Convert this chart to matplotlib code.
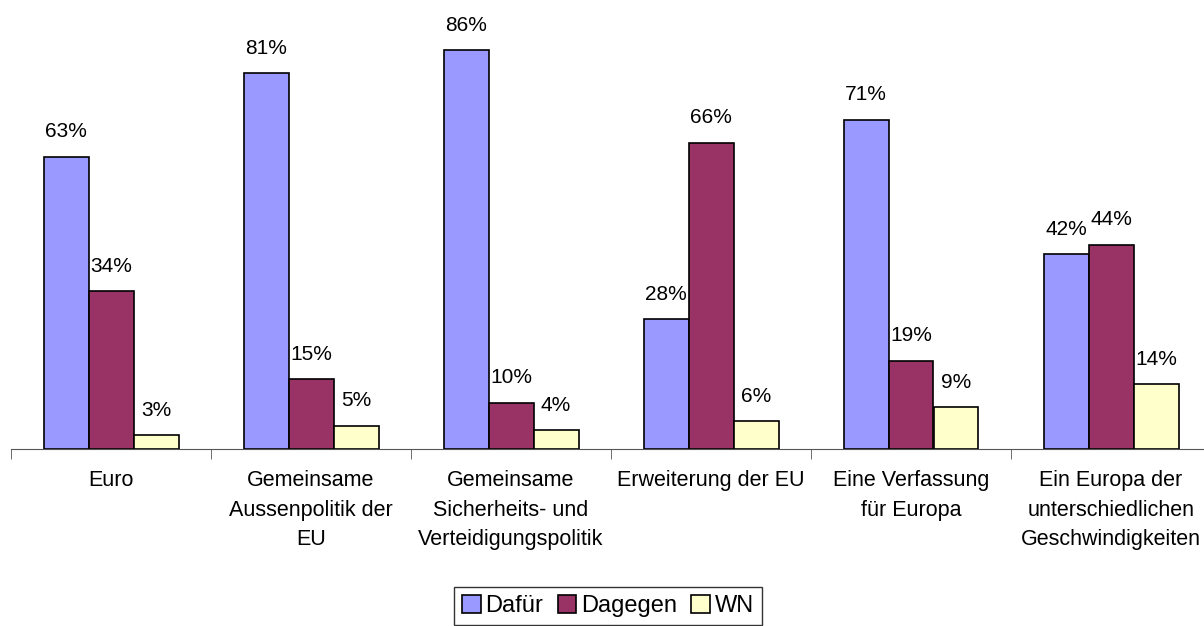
import numpy as np
import matplotlib.pyplot as plt

plt.rcParams['font.family'] = ['Liberation Sans', 'DejaVu Sans']

kategorien = ['Euro', 'Gemeinsame\nAussenpolitik der\nEU', 'Gemeinsame\nSicherheits- und\nVerteidigungspolitik',
              'Erweiterung der EU', 'Eine Verfassung\nfür Europa', 'Ein Europa der\nunterschiedlichen\nGeschwindigkeiten']
dafuer = [63, 81, 86, 28, 71, 42]
dagegen = [34, 15, 10, 66, 19, 44]
wn = [3, 5, 4, 6, 9, 14]

serien = [('Dafür', dafuer, '#9999FF'), ('Dagegen', dagegen, '#993366'), ('WN', wn, '#FFFFCC')]

fig = plt.figure(figsize=(12.04, 6.26), dpi=100)
ax = fig.add_axes([11 / 1204, 1 - 449 / 626, 1200 / 1204, 0.667])

x = np.arange(len(kategorien))
breite = 0.225
for i, (name, werte, farbe) in enumerate(serien):
    pos = x + (i - 1) * breite
    ax.bar(pos, werte, breite, color=farbe, edgecolor='black', linewidth=1.2, label=name)
    for p, w in zip(pos, werte):
        ax.annotate(f'{w}%', (p, w), xytext=(0, 18), textcoords='offset points',
                    ha='center', va='center', fontsize=15)

ax.set_xlim(-0.5, len(kategorien) - 0.5)
ax.set_ylim(0, 90)
for s in ['top', 'right', 'left']:
    ax.spines[s].set_visible(False)
ax.spines['bottom'].set_color('#555555')
ax.set_yticks([])
ax.set_xticks(x)
ax.set_xticklabels(kategorien, fontsize=15.5, linespacing=1.55)
ax.tick_params(axis='x', which='major', length=0, pad=15)
ax.set_xticks(np.arange(len(kategorien) + 1) - 0.5, minor=True)
ax.tick_params(axis='x', which='minor', length=7, direction='out', color='#555555')

leg = fig.legend(loc='center', bbox_to_anchor=(608 / 1204, 1 - 606 / 626), ncol=3, fontsize=17,
                 frameon=True, fancybox=False, handlelength=0.8, handleheight=0.8,
                 handletextpad=0.2, columnspacing=0.6, borderpad=0.35)
leg.get_frame().set_edgecolor('black')
leg.get_frame().set_linewidth(1.0)

plt.savefig('out.png', dpi=100)
